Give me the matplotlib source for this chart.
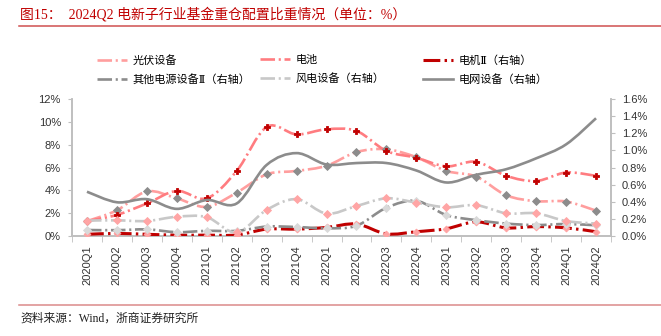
import numpy as np
import matplotlib
matplotlib.use('Agg')
import matplotlib.pyplot as plt
from matplotlib.path import Path
from matplotlib.patches import PathPatch
from matplotlib.lines import Line2D
from matplotlib.ticker import FuncFormatter, FixedLocator

plt.rcParams['font.family'] = ['Liberation Sans', 'Noto Sans CJK SC', 'DejaVu Sans']

quarters = ['2020Q1', '2020Q2', '2020Q3', '2020Q4', '2021Q1', '2021Q2', '2021Q3', '2021Q4',
            '2022Q1', '2022Q2', '2022Q3', '2022Q4', '2023Q1', '2023Q2', '2023Q3', '2023Q4',
            '2024Q1', '2024Q2']

# left axis (%)
pv = [1.3, 2.25, 3.9, 3.3, 2.55, 3.8, 5.4, 5.7, 6.15, 7.35, 7.6, 6.9, 5.7, 5.2, 3.57, 3.05, 3.02, 2.22]
battery = [1.3, 1.85, 2.85, 3.95, 3.3, 5.7, 9.55, 8.9, 9.35, 9.2, 7.45, 6.85, 6.1, 6.5, 5.27, 4.82, 5.56, 5.27]
# right axis (%)
motor = [0.02, 0.03, 0.02, 0.01, 0.01, 0.012, 0.08, 0.08, 0.10, 0.14, 0.025, 0.05, 0.085, 0.165, 0.095, 0.11, 0.095, 0.05]
other_power = [0.07, 0.068, 0.077, 0.045, 0.06, 0.06, 0.11, 0.105, 0.09, 0.12, 0.33, 0.41, 0.245, 0.185, 0.145, 0.128, 0.14, 0.125]
wind = [0.18, 0.183, 0.175, 0.225, 0.22, 0.042, 0.305, 0.43, 0.262, 0.35, 0.44, 0.39, 0.335, 0.36, 0.265, 0.265, 0.175, 0.145]
grid = [0.517, 0.394, 0.43, 0.317, 0.42, 0.38, 0.83, 0.968, 0.835, 0.852, 0.852, 0.765, 0.625, 0.715, 0.78, 0.907, 1.07, 1.375]

DASHDOT = (0, (5.5, 1.4, 0.8, 1.4))


def smooth_path(x, y):
    # Excel-style smoothed line as cubic bezier segments through the data points
    pts = np.column_stack([x, y]).astype(float)
    n = len(pts)
    verts = [pts[0]]
    codes = [Path.MOVETO]
    for i in range(n - 1):
        p0 = pts[i - 1] if i > 0 else pts[i]
        p1, p2 = pts[i], pts[i + 1]
        p3 = pts[i + 2] if i + 2 < n else pts[i + 1]
        verts += [p1 + (p2 - p0) / 6, p2 - (p3 - p1) / 6, p2]
        codes += [Path.CURVE4] * 3
    return Path(verts, codes)


def draw(ax, vals, color, lw, ls, marker=None, mcolor=None, ms=4, mec=None):
    x = np.arange(len(vals))
    ax.add_patch(PathPatch(smooth_path(x, vals), fill=False, edgecolor=color,
                           lw=lw, linestyle=ls, capstyle='butt', zorder=3))
    if marker:
        ax.plot(x, vals, linestyle='none', marker=marker, ms=ms, color=mcolor,
                mec=mec or mcolor, mew=0.6, zorder=4)


fig = plt.figure(figsize=(6.61, 3.36), dpi=100)
ax = fig.add_axes([72 / 661, 1 - 236 / 336, 539 / 661, 137 / 336])
ax2 = ax.twinx()

draw(ax, pv, '#FF9E9E', 1.9, DASHDOT, 'D', '#8C8C8C', 4)
draw(ax, battery, '#FF7C80', 1.9, DASHDOT, 'P', '#C00000', 5)
draw(ax2, motor, '#C00000', 2.2, DASHDOT, 'D', '#FFA3A3', 3.5)
draw(ax2, other_power, '#8C8C8C', 1.9, DASHDOT, 'D', '#D9D9D9', 4)
draw(ax2, wind, '#C8C8C8', 1.9, DASHDOT, 'D', '#FFA5A5', 4)
draw(ax2, grid, '#8C8C8C', 1.9, '-')

ax.set_xlim(-0.5, len(quarters) - 0.5)
ax.set_ylim(0, 12)
ax2.set_ylim(0, 1.6)
ax.yaxis.set_major_locator(FixedLocator(np.arange(0, 12.1, 2)))
ax2.yaxis.set_major_locator(FixedLocator(np.arange(0, 1.61, 0.2)))
ax.yaxis.set_major_formatter(FuncFormatter(lambda v, p: '%d%%' % round(v)))
ax2.yaxis.set_major_formatter(FuncFormatter(lambda v, p: '%.1f%%' % v))

ax.set_xticks(np.arange(len(quarters)))
ax.set_xticklabels(quarters, rotation=90)
ax.set_xticks(np.arange(-0.5, len(quarters), 1), minor=True)
ax.tick_params(axis='x', which='major', length=0, pad=7, labelsize=8, colors='#333333')
ax.tick_params(axis='x', which='minor', length=4, color='#BFBFBF', direction='out')
ax.tick_params(axis='y', length=3, pad=5, labelsize=8, colors='#333333', color='#BFBFBF')
ax2.tick_params(axis='y', length=3, pad=5, labelsize=8, colors='#333333', color='#BFBFBF')

for a in (ax, ax2):
    a.spines['top'].set_visible(False)
    for s in ('left', 'right', 'bottom'):
        a.spines[s].set_color('#BFBFBF')
        a.spines[s].set_linewidth(1.2)

# legend: three columns of two rows, laid out like the source
cols = [
    [('光伏设备', '#FF9E9E', DASHDOT, 1.9), ('其他电源设备Ⅱ（右轴）', '#8C8C8C', DASHDOT, 1.9)],
    [('电池', '#FF7C80', DASHDOT, 1.9), ('风电设备（右轴）', '#C8C8C8', DASHDOT, 1.9)],
    [('电机Ⅱ（右轴）', '#C00000', DASHDOT, 2.2), ('电网设备（右轴）', '#8C8C8C', '-', 1.9)],
]
for cx, entries in zip([97, 260, 423], cols):
    handles = [Line2D([], [], color=c, linestyle=ls, lw=lw) for _, c, ls, lw in entries]
    fig.legend(handles, [e[0] for e in entries], loc='upper left',
               bbox_to_anchor=(cx / 661, 1 - 55 / 336), frameon=False,
               prop={'family': ['DejaVu Serif', 'Noto Sans CJK SC', 'DejaVu Sans'], 'size': 8},
               handlelength=2.7, handletextpad=0.5, labelspacing=0.75, borderpad=0,
               borderaxespad=0)

serif = ['Liberation Serif', 'Noto Sans CJK SC', 'DejaVu Sans']
fig.text(20 / 661, 1 - 14 / 336, '图15：  2024Q2 电新子行业基金重仓配置比重情况（单位：%）',
         family=serif, fontsize=10, color='#C00000', va='center', ha='left')
fig.add_artist(Line2D([19 / 661, 1], [1 - 26 / 336] * 2, transform=fig.transFigure,
                      color='#D05050', lw=1.1))
fig.add_artist(Line2D([19 / 661, 1], [1 - 305 / 336] * 2, transform=fig.transFigure,
                      color='#DB8A8A', lw=1.1))
fig.text(20 / 661, 1 - 319 / 336, '资料来源：Wind，浙商证券研究所',
         family=serif, fontsize=8.5, color='#222222', va='center', ha='left')

fig.savefig('out.png', dpi=100)
